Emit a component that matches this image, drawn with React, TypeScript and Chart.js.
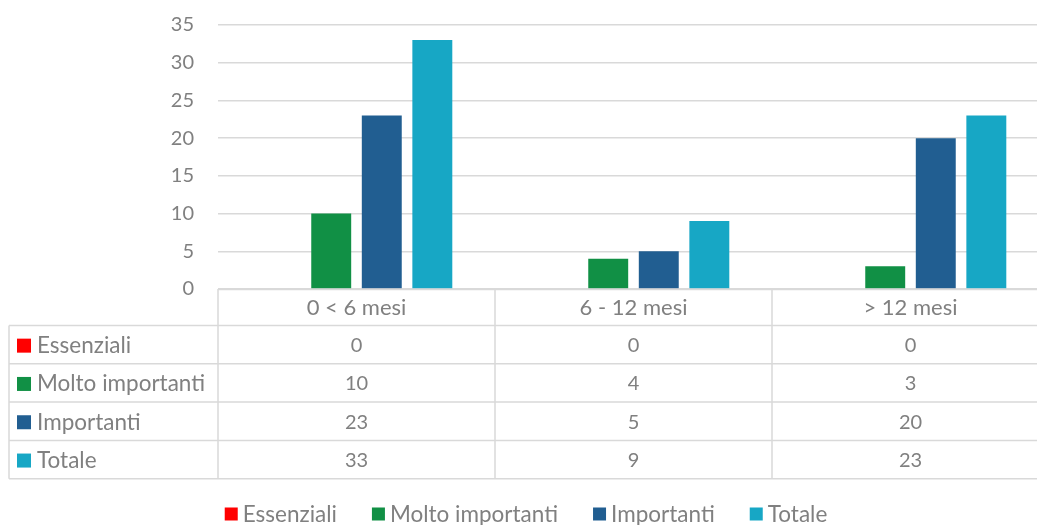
import React, { useEffect, useRef } from "react";
import { Chart, registerables } from "chart.js";

Chart.register(...registerables);

const categories = ["0 < 6 mesi", "6 - 12 mesi", "> 12 mesi"];
const seriesNames = ["Essenziali", "Molto importanti", "Importanti", "Totale"];
const essenziali = [0, 0, 0];
const moltoImportanti = [10, 4, 3];
const importanti = [23, 5, 20];
const totale = [33, 9, 23];
const seriesColors = ["#FF0000", "#119045", "#215E91", "#17A7C5"];
const yMax = 35;
const yStep = 5;

const FONT = "Lato, 'Open Sans', sans-serif";
const NUM_SIZE = 20;
const TEXT_SIZE = 22;
const TEXT = "#808080";
const GRID = "#d9d9d9";

const HEADER_H = 36.5;
const ROW_H = 38.3;
const TABLE_LEFT = 9;

const tablePlugin = {
  id: "dataTable",
  afterDraw(chart: any) {
    const { ctx, chartArea, scales } = chart;
    const xs = scales.x;
    const n = categories.length;
    const catW = (chartArea.right - chartArea.left) / n;
    const top = chartArea.bottom;
    const headerBottom = top + HEADER_H;
    const rows = chart.data.datasets.length;
    const bottom = headerBottom + rows * ROW_H;
    const right = chart.width;

    ctx.save();
    ctx.strokeStyle = GRID;
    ctx.lineWidth = 1.5;
    ctx.beginPath();
    ctx.moveTo(chartArea.left, top + 0.5);
    ctx.lineTo(right, top + 0.5);
    for (let r = 0; r <= rows; r++) {
      const y = headerBottom + r * ROW_H;
      ctx.moveTo(TABLE_LEFT, y);
      ctx.lineTo(right, y);
    }
    ctx.moveTo(TABLE_LEFT, headerBottom);
    ctx.lineTo(TABLE_LEFT, bottom);
    for (let i = 0; i <= n; i++) {
      const x = chartArea.left + i * catW;
      ctx.moveTo(x, top);
      ctx.lineTo(x, bottom);
    }
    ctx.stroke();

    const textFont = `${TEXT_SIZE}px ${FONT}`;
    const labelFont = `22.5px ${FONT}`;
    const numFont = `${NUM_SIZE}px ${FONT}`;
    ctx.fillStyle = TEXT;
    ctx.textBaseline = "middle";
    ctx.textAlign = "center";
    ctx.font = textFont;
    for (let i = 0; i < n; i++) {
      const cx = xs.getPixelForValue(i);
      ctx.fillText(categories[i], cx, top + HEADER_H / 2 + 1);
    }
    chart.data.datasets.forEach((ds: any, r: number) => {
      const cy = headerBottom + r * ROW_H + ROW_H / 2 + 1;
      ctx.fillStyle = ds.backgroundColor;
      ctx.fillRect(17, cy - 7, 14, 14);
      ctx.fillStyle = TEXT;
      ctx.textAlign = "left";
      ctx.font = labelFont;
      ctx.fillText(ds.label, 37, cy);
      ctx.textAlign = "center";
      ctx.font = numFont;
      for (let i = 0; i < n; i++) {
        ctx.fillText(String(ds.data[i]), xs.getPixelForValue(i), cy);
      }
    });

    // legend
    ctx.font = labelFont;
    const box = 13;
    const gap = 5;
    const spacing = 35;
    const widths = chart.data.datasets.map((ds: any) => ctx.measureText(ds.label).width);
    const total =
      widths.reduce((a: number, b: number) => a + b, 0) +
      chart.data.datasets.length * (box + gap) +
      (chart.data.datasets.length - 1) * spacing;
    let lx = 526 - total / 2;
    const ly = 514;
    ctx.textAlign = "left";
    chart.data.datasets.forEach((ds: any, i: number) => {
      ctx.fillStyle = ds.backgroundColor;
      ctx.fillRect(lx, ly - box / 2, box, box);
      lx += box + gap;
      ctx.fillStyle = TEXT;
      ctx.fillText(ds.label, lx, ly + 1);
      lx += widths[i] + spacing;
    });
    ctx.restore();
  },
};

export default function App() {
  const ref = useRef<HTMLCanvasElement>(null);

  useEffect(() => {
    if (!ref.current) return;
    const seriesData = [essenziali, moltoImportanti, importanti, totale];
    const chart = new Chart(ref.current, {
      type: "bar",
      data: {
        labels: categories,
        datasets: seriesNames.map((name, i) => ({
          label: name,
          data: seriesData[i],
          backgroundColor: seriesColors[i],
          borderWidth: 0,
          categoryPercentage: 0.73,
          barPercentage: 0.79,
        })),
      },
      options: {
        responsive: false,
        animation: false,
        layout: { padding: { left: 8, top: 25, right: 11, bottom: 0 } },
        plugins: {
          legend: { display: false },
          tooltip: { enabled: false },
        },
        scales: {
          x: {
            grid: { display: false, drawTicks: false },
            border: { display: false },
            ticks: { display: false },
            afterFit: (s: any) => {
              s.height = 236;
            },
          },
          y: {
            min: 0,
            max: yMax,
            ticks: {
              stepSize: yStep,
              padding: 0,
              color: TEXT,
              font: { family: FONT, size: NUM_SIZE },
            },
            grid: {
              color: GRID,
              lineWidth: 1.5,
              drawTicks: true,
              tickLength: 24,
              tickColor: "rgba(0,0,0,0)",
            },
            border: { display: false },
            afterFit: (s: any) => {
              s.width = 210;
            },
          },
        },
      },
      plugins: [tablePlugin],
    });
    return () => chart.destroy();
  }, []);

  return (
    <div
      style={{
        position: "absolute",
        left: 0,
        top: 0,
        width: 1037,
        height: 525,
        overflow: "hidden",
        background: "#fff",
      }}
    >
      <canvas ref={ref} width={1060} height={525} style={{ display: "block" }} />
    </div>
  );
}
